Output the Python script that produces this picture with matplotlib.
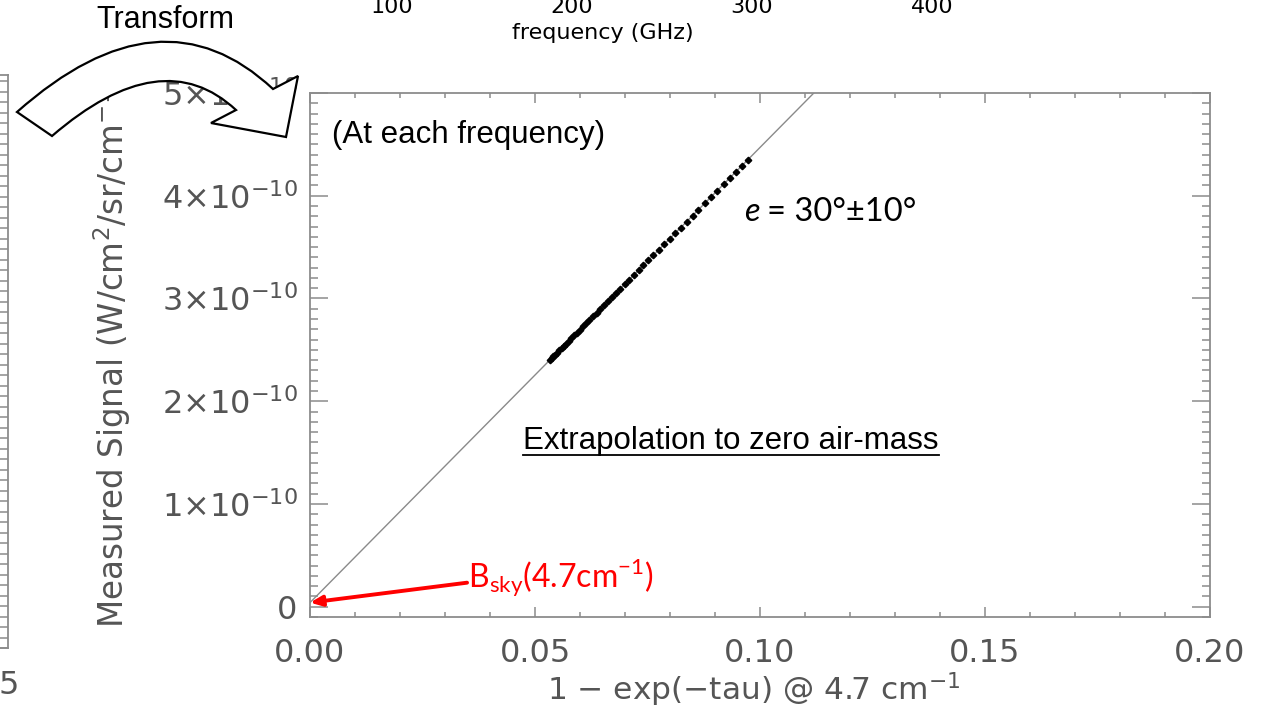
import numpy as np
import matplotlib.pyplot as plt
from matplotlib.path import Path
from matplotlib.patches import PathPatch
from matplotlib.lines import Line2D
from matplotlib.ticker import MultipleLocator, FixedLocator, FixedFormatter

W, H = 1266, 709

# measured points (x: 1 - exp(-tau) @ 4.7 cm^-1, y: signal in 1e-10 W/cm2/sr/cm-1)
opacity = [0.0533, 0.0537, 0.0541, 0.0545, 0.0549, 0.0554, 0.0559, 0.0564,
           0.0569, 0.0575, 0.0581, 0.0587, 0.0593, 0.0600, 0.0607, 0.0614,
           0.0621, 0.0629, 0.0637, 0.0645, 0.0653, 0.0662, 0.0671, 0.0680,
           0.0689, 0.0699, 0.0709, 0.0719, 0.0730, 0.0741, 0.0752, 0.0763,
           0.0775, 0.0787, 0.0799, 0.0811, 0.0824, 0.0837, 0.0850, 0.0863,
           0.0877, 0.0891, 0.0905, 0.0919, 0.0933, 0.0947, 0.0960, 0.0973]
signal = [2.401, 2.419, 2.437, 2.454, 2.472, 2.494, 2.516, 2.539,
          2.561, 2.587, 2.614, 2.640, 2.667, 2.698, 2.729, 2.760,
          2.791, 2.826, 2.862, 2.897, 2.933, 2.973, 3.013, 3.052,
          3.092, 3.137, 3.181, 3.225, 3.274, 3.323, 3.371, 3.420,
          3.473, 3.526, 3.580, 3.633, 3.690, 3.748, 3.806, 3.863,
          3.925, 3.987, 4.049, 4.111, 4.173, 4.235, 4.293, 4.350]

# linear fit, intercept = B_sky
sky_offset = 0.04
fit_slope = 44.3
fit_x = [0.0, 0.20]

x_ticks = [0.0, 0.05, 0.10, 0.15, 0.20]
x_tick_labels = ['0.00', '0.05', '0.10', '0.15', '0.20']
y_ticks = [0, 1, 2, 3, 4, 5]
y_tick_labels = ['0', r'1×10$^{-10}$', r'2×10$^{-10}$', r'3×10$^{-10}$',
                 r'4×10$^{-10}$', r'5×10$^{-10}$']
freq_ticks = [100, 200, 300, 400]


def fpx(x, y):
    # pixel (from top-left) -> figure fraction
    return x / W, 1 - y / H


fig = plt.figure(figsize=(W / 100, H / 100), dpi=100)
fig.patch.set_facecolor('white')

axis_grey = '#8c8c8c'
label_grey = '#555555'

# ---- main panel
ax = fig.add_axes([310 / W, 1 - 617 / H, 900 / W, 524 / H])
fx = np.array(fit_x)
ax.plot(fx, sky_offset + fit_slope * fx, color='#8a8a8a', lw=1.0, zorder=2)
ax.plot(opacity, signal, ls='none', marker='D', ms=3.3, color='black', zorder=3)
ax.set_xlim(0, 0.20)
ax.set_ylim(-0.1, 5.0)

ax.xaxis.set_major_locator(FixedLocator(x_ticks))
ax.xaxis.set_major_formatter(FixedFormatter(x_tick_labels))
ax.xaxis.set_minor_locator(MultipleLocator(0.01))
ax.yaxis.set_major_locator(FixedLocator(y_ticks))
ax.yaxis.set_major_formatter(FixedFormatter(y_tick_labels))
ax.yaxis.set_minor_locator(MultipleLocator(0.1))
ax.tick_params(which='both', direction='in', top=True, right=True,
               color=axis_grey, width=1.1, labelcolor=label_grey, labelsize=23)
ax.tick_params(axis='x', which='major', length=7.5, pad=15)
ax.tick_params(axis='x', which='minor', length=3.8)
ax.tick_params(axis='y', which='major', length=13, pad=9)
ax.tick_params(axis='y', which='minor', length=6)
for s in ax.spines.values():
    s.set_color(axis_grey)
    s.set_linewidth(1.3)

fig.text(*fpx(112, 352), r'Measured Signal (W/cm$^2$/sr/cm$^{-1}$)', rotation=90,
         ha='center', va='center', fontsize=23.5, color=label_grey)
fig.text(*fpx(754, 690), r'1 − exp(−tau) @ 4.7 cm$^{-1}$', ha='center', va='center',
         fontsize=22.5, color=label_grey)

# annotations
fig.text(*fpx(332, 135), '(At each frequency)', ha='left', va='center',
         fontsize=22.5, family='Liberation Sans', color='black')
fig.text(*fpx(744, 212), 'e', ha='left', va='center', fontsize=23.5,
         family='Lato', style='italic', color='black')
fig.text(*fpx(767, 212), '= 30°±10°', ha='left', va='center', fontsize=23.5,
         family='Lato', color='black')
extra = fig.text(*fpx(523, 441), 'Extrapolation to zero air-mass', ha='left',
                 va='center', fontsize=22.5, family='Liberation Sans', color='black')

ax.annotate('', xy=(0.0, sky_offset), xytext=(0.0349, 0.234),
            arrowprops=dict(arrowstyle='-|>,head_length=0.7,head_width=0.3',
                            color='#ff0000', lw=2.8, shrinkA=0, shrinkB=0))
fig.text(*fpx(468, 578), r'B$_{\mathregular{sky}}$(4.7cm$^{\mathregular{-1}}$)',
         ha='left', va='center', fontsize=23, family='Lato', color='#ff0000')

# ---- partial panel at left edge
axl = fig.add_axes([-0.1, 1 - 648 / H, 0.1 + 8 / W, (648 - 75) / H])
axl.set_xlim(0, 1)
axl.set_ylim(0, 573)
axl.yaxis.tick_right()
axl.yaxis.set_major_locator(MultipleLocator(10.5))
axl.tick_params(axis='y', direction='in', length=5.5, width=1.1,
                color=axis_grey, labelright=False)
axl.set_xticks([])
axl.spines['left'].set_visible(False)
for s in ['top', 'right', 'bottom']:
    axl.spines[s].set_color(axis_grey)
    axl.spines[s].set_linewidth(1.3)
fig.text(*fpx(19, 686), '5', ha='right', va='center', fontsize=23, color=label_grey)

# ---- partial frequency axis at the top
axt = fig.add_axes([392 / W, 1 + 11 / H, 540 / W, 0.05])
axt.set_xlim(100, 400)
axt.set_xticks(freq_ticks)
axt.set_xticklabels([str(f) for f in freq_ticks])
axt.tick_params(axis='x', length=0, pad=6, labelsize=16, labelcolor='black')
axt.set_yticks([])
for s in axt.spines.values():
    s.set_visible(False)
axt.patch.set_alpha(0)
fig.text(*fpx(603, 33), 'frequency (GHz)', ha='center', va='center',
         fontsize=16, color='black')

# ---- curved "Transform" arrow
pts = [(17, 112), (161, -16), (273, 89),
       (298, 76), (286, 137), (211, 123), (236, 110),
       (162, 41), (52, 136), (17, 112)]
codes = [Path.MOVETO, Path.CURVE3, Path.CURVE3,
         Path.LINETO, Path.LINETO, Path.LINETO, Path.LINETO,
         Path.CURVE3, Path.CURVE3, Path.CLOSEPOLY]
arrow = PathPatch(Path([fpx(*p) for p in pts], codes), transform=fig.transFigure,
                  facecolor='white', edgecolor='black', lw=1.6, zorder=10)
fig.add_artist(arrow)
fig.text(*fpx(165, 20), 'Transform', ha='center', va='center', fontsize=22,
         family='Liberation Sans', color='black')

# underline for the extrapolation note
fig.canvas.draw()
bb = extra.get_window_extent()
fig.add_artist(Line2D([bb.x0 / W, bb.x1 / W], [(bb.y0 + 1) / H, (bb.y0 + 1) / H],
                      transform=fig.transFigure, color='black', lw=1.3))

fig.savefig('out.png', dpi=100)
